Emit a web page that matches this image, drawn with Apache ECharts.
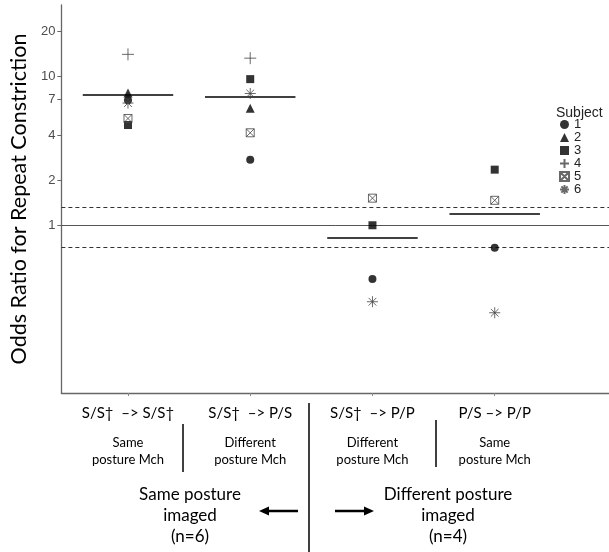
<!DOCTYPE html>
<html>
<head>
<meta charset="utf-8">
<script src="https://cdn.jsdelivr.net/npm/echarts@6/dist/echarts.min.js"></script>
<style>html,body{margin:0;padding:0;background:#fff;}#c{width:609px;height:552px;}</style>
</head>
<body>
<div id="c"></div>
<script>
// ---- data ----
var categories = ['S/S\u2020  \u2013> S/S\u2020', 'S/S\u2020  \u2013> P/S', 'S/S\u2020  \u2013> P/P', 'P/S \u2013> P/P'];
var matchLabels = ['Same', 'Different', 'Different', 'Same'];
var xPositions = [1, 2, 3, 4];
var subject1 = [6.9, 2.75, 0.436, 0.706];
var subject2 = [7.7, 6.1, null, null];
var subject3 = [4.7, 9.55, 1.0, 2.36];
var subject4 = [14.0, 13.2, null, null];
var subject5 = [5.2, 4.17, 1.52, 1.47];
var subject6 = [6.6, 7.65, 0.307, 0.259];
var subjectNames = ['1', '2', '3', '4', '5', '6'];
var medians = [7.5, 7.3, 0.82, 1.2];
var refSolid = [1];
var refDashed = [1.32, 0.71];
var yTicks = [1, 2, 4, 7, 10, 20];

// ---- styling ----
var subjects = [subject1, subject2, subject3, subject4, subject5, subject6];
var symbols = [
  'circle', 'triangle', 'rect',
  'path://M5,0 L5,10 M0,5 L10,5',
  'path://M0,0 L10,0 L10,10 L0,10 Z M0,0 L10,10 M10,0 L0,10',
  'path://M5,0 L5,10 M0,5 L10,5 M1.5,1.5 L8.5,8.5 M8.5,1.5 L1.5,8.5'
];
var sizes = [8, 9, 8, 12, 8, 11];
var filled = [true, true, true, false, false, false];
var labelFont = 'Lato';

var series = subjects.map(function (vals, k) {
  var data = [];
  vals.forEach(function (v, i) { if (v != null) data.push([xPositions[i], v]); });
  return {
    name: subjectNames[k],
    type: 'scatter',
    data: data,
    symbol: symbols[k],
    symbolSize: sizes[k],
    itemStyle: filled[k]
      ? { color: '#000' }
      : { color: 'rgba(0,0,0,0)', borderColor: '#444', borderWidth: 1 },
    emphasis: { disabled: true },
    z: 5
  };
});

var halfW = 0.37;
series.push({
  name: 'median',
  type: 'line',
  data: [],
  silent: true,
  markLine: {
    silent: true,
    symbol: 'none',
    label: { show: false },
    lineStyle: { color: '#000', width: 1.6, type: 'solid' },
    data: medians.map(function (m, i) {
      return [{ coord: [xPositions[i] - halfW, m] }, { coord: [xPositions[i] + halfW, m] }];
    })
  }
});
series.push({
  name: 'ref',
  type: 'line',
  data: [],
  silent: true,
  markLine: {
    silent: true,
    symbol: 'none',
    label: { show: false },
    data: refSolid.map(function (v) {
      return { yAxis: v, lineStyle: { color: '#555', width: 1, type: 'solid' } };
    }).concat(refDashed.map(function (v) {
      return { yAxis: v, lineStyle: { color: '#333', width: 1, type: [4, 3] } };
    }))
  }
});

var chart = echarts.init(document.getElementById('c'), null, { renderer: 'canvas' });
chart.setOption({
  animation: false,
  backgroundColor: '#fff',
  grid: { left: 58, right: 0, top: 5, bottom: 159, containLabel: false },
  title: {
    text: 'Subject', left: 556, top: 106, padding: 0,
    textStyle: { fontSize: 14, fontWeight: 'normal', color: '#222', fontFamily: 'Liberation Sans' }
  },
  legend: {
    data: subjectNames,
    orient: 'vertical', left: 559, top: 118,
    itemWidth: 9, itemHeight: 9, itemGap: 0,
    padding: 0,
    textStyle: { fontSize: 13, color: '#222', fontFamily: 'Liberation Sans' },
    selectedMode: false
  },
  xAxis: {
    type: 'value', min: 0.455, max: 4.935,
    splitLine: { show: false },
    axisLine: { show: true, lineStyle: { color: '#666', width: 1.3 } },
    axisTick: { show: true, customValues: xPositions, length: 3, lineStyle: { color: '#888' } },
    axisLabel: {
      show: true, customValues: xPositions, margin: 0,
      formatter: function (v) {
        var i = xPositions.indexOf(v);
        return '{a|' + categories[i] + '}\n{b|' + matchLabels[i] + '}\n{b|posture Mch}';
      },
      rich: {
        a: { fontSize: 15, fontFamily: labelFont, color: '#000', lineHeight: 41 },
        b: { fontSize: 13, fontFamily: labelFont, color: '#000', lineHeight: 17 }
      }
    }
  },
  yAxis: {
    type: 'log', logBase: 10, min: 0.075, max: 30,
    splitLine: { show: false },
    axisLine: { show: true, lineStyle: { color: '#666', width: 1.3 } },
    axisTick: { show: true, customValues: yTicks, length: 4, lineStyle: { color: '#666' } },
    axisLabel: { customValues: yTicks, fontSize: 13, color: '#4d4d4d', fontFamily: 'Liberation Sans', margin: 6 },
    name: 'Odds Ratio for Repeat Constriction',
    nameLocation: 'middle', nameGap: 31,
    nameTextStyle: { fontSize: 21.5, fontFamily: labelFont, color: '#000' }
  },
  series: series,
  graphic: [
    { type: 'line', shape: { x1: 309, y1: 403, x2: 309, y2: 552 }, style: { stroke: '#000', lineWidth: 1.5 } },
    { type: 'line', shape: { x1: 183, y1: 424, x2: 183, y2: 472 }, style: { stroke: '#000', lineWidth: 1.5 } },
    { type: 'line', shape: { x1: 436, y1: 420, x2: 436, y2: 467 }, style: { stroke: '#000', lineWidth: 1.5 } },
    { type: 'text', style: { text: 'Same posture\nimaged\n(n=6)', x: 190, y: 516, align: 'center', verticalAlign: 'middle', fontSize: 17, lineHeight: 21, fontFamily: labelFont, fill: '#000' } },
    { type: 'text', style: { text: 'Different posture\nimaged\n(n=4)', x: 448, y: 516, align: 'center', verticalAlign: 'middle', fontSize: 17, lineHeight: 21, fontFamily: labelFont, fill: '#000' } },
    { type: 'line', shape: { x1: 298, y1: 511, x2: 267, y2: 511 }, style: { stroke: '#000', lineWidth: 2.5 } },
    { type: 'polygon', shape: { points: [[259, 511], [269, 506.5], [269, 515.5]] }, style: { fill: '#000' } },
    { type: 'line', shape: { x1: 335, y1: 511, x2: 366, y2: 511 }, style: { stroke: '#000', lineWidth: 2.5 } },
    { type: 'polygon', shape: { points: [[374, 511], [364, 506.5], [364, 515.5]] }, style: { fill: '#000' } }
  ]
});
</script>
</body>
</html>
